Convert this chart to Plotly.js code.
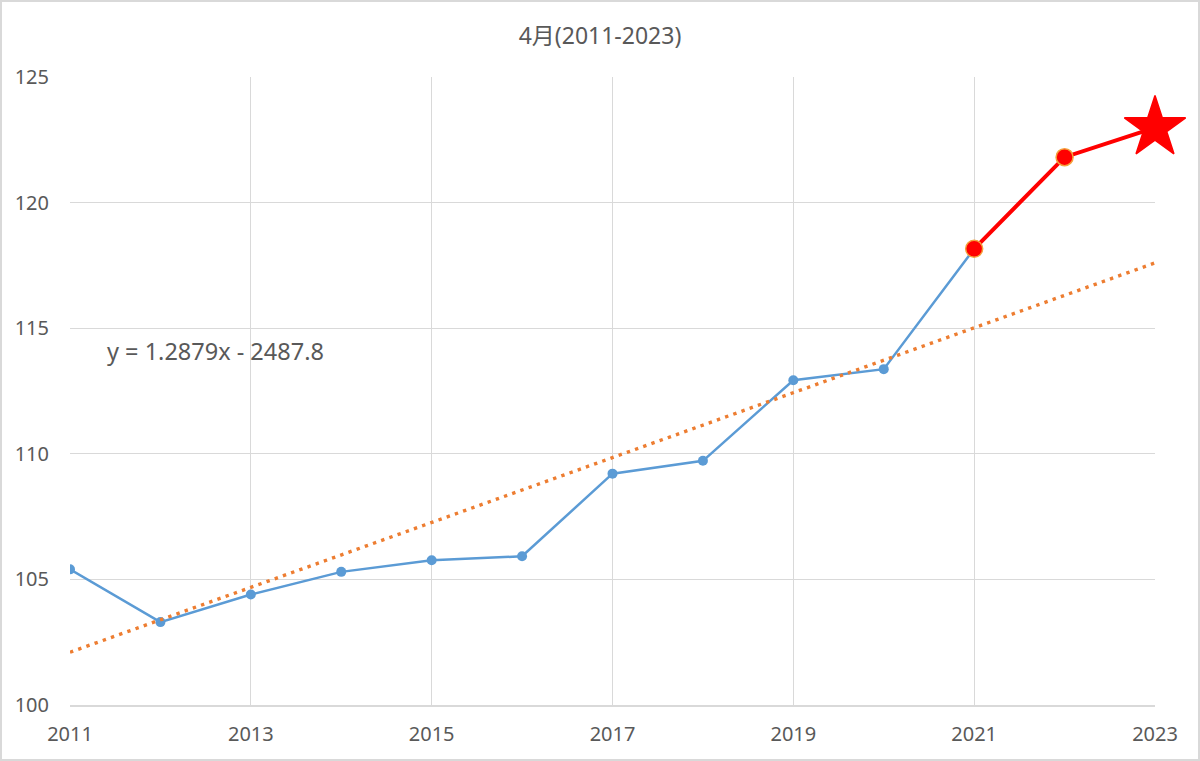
<!DOCTYPE html>
<html>
<head>
<meta charset="utf-8">
<script src="https://cdn.plot.ly/plotly-3.0.1.min.js"></script>
<style>
  html, body { margin: 0; padding: 0; background: #fff; }
  #chart { width: 1200px; height: 761px; box-sizing: border-box; border: 2px solid #d9d9d9; }
</style>
</head>
<body>
<div id="chart"></div>
<script>
// === ДАННЫЕ ===
const years = [2011, 2012, 2013, 2014, 2015, 2016, 2017, 2018, 2019, 2020, 2021];
const values = [105.4, 103.3, 104.4, 105.3, 105.76, 105.92, 109.21, 109.72, 112.93, 113.37, 118.16];

const recentYears = [2021, 2022, 2023];
const recentValues = [118.16, 121.81, 122.98];

const trendYears = [2011, 2023];
const trendValues = [102.1, 117.6];

const titleText = '4月(2011-2023)';
const equationText = 'y = 1.2879x - 2487.8';

const textColor = '#595959';
const gridColor = '#d9d9d9';

// === ПОСТРОЕНИЕ ===
const traceMain = {
    x: years,
    y: values,
    mode: 'lines+markers',
    type: 'scatter',
    line: { color: '#5b9bd5', width: 2.5 },
    marker: { color: '#5b9bd5', size: 10 },
    hoverinfo: 'x+y'
};

const traceTrend = {
    x: trendYears,
    y: trendValues,
    mode: 'lines',
    type: 'scatter',
    line: { color: '#ed7d31', width: 3.4, dash: '3.4px,5.3px' },
    hoverinfo: 'skip'
};

// последние годы: красная линия, последний год звездой
const isLast = recentYears.map((y, i) => i === recentYears.length - 1);
const traceRecent = {
    x: recentYears,
    y: recentValues,
    mode: 'lines+markers',
    type: 'scatter',
    cliponaxis: false,
    line: { color: '#ff0000', width: 4 },
    marker: {
        color: '#ff0000',
        opacity: 1,
        size: isLast.map(last => last ? 46 : 17),
        symbol: isLast.map(last => last ? 'star' : 'circle'),
        line: {
            color: isLast.map(last => last ? '#ff0000' : '#f4a23c'),
            width: 1.5
        }
    },
    hoverinfo: 'x+y'
};

const layout = {
    width: 1196,
    height: 757,
    title: {
        text: titleText,
        font: { family: 'Noto Sans, Noto Sans CJK JP, sans-serif', size: 23, color: textColor },
        x: 0.5,
        xanchor: 'center',
        y: 0.955,
        yanchor: 'middle'
    },
    xaxis: {
        range: [2011, 2023],
        tick0: 2011,
        dtick: 2,
        showgrid: true,
        gridcolor: gridColor,
        gridwidth: 1,
        zeroline: false,
        showline: true,
        linecolor: gridColor,
        linewidth: 1.5,
        ticks: '',
        ticklabelstandoff: 10,
        tickfont: { family: 'Noto Sans, sans-serif', size: 20, color: textColor }
    },
    yaxis: {
        range: [100, 125],
        dtick: 5,
        showgrid: true,
        gridcolor: gridColor,
        gridwidth: 1,
        zeroline: false,
        showline: false,
        ticks: '',
        ticklabelstandoff: 20,
        tickfont: { family: 'Noto Sans, sans-serif', size: 20, color: textColor }
    },
    annotations: [{
        x: 2011.39,
        y: 114.1,
        xref: 'x',
        yref: 'y',
        xanchor: 'left',
        yanchor: 'middle',
        text: equationText,
        showarrow: false,
        font: { family: 'Noto Sans, sans-serif', size: 23.5, color: textColor }
    }],
    showlegend: false,
    plot_bgcolor: '#ffffff',
    paper_bgcolor: '#ffffff',
    margin: { l: 68, r: 43, t: 75, b: 54 }
};

Plotly.newPlot('chart', [traceMain, traceTrend, traceRecent], layout, { displayModeBar: false });
</script>
</body>
</html>
